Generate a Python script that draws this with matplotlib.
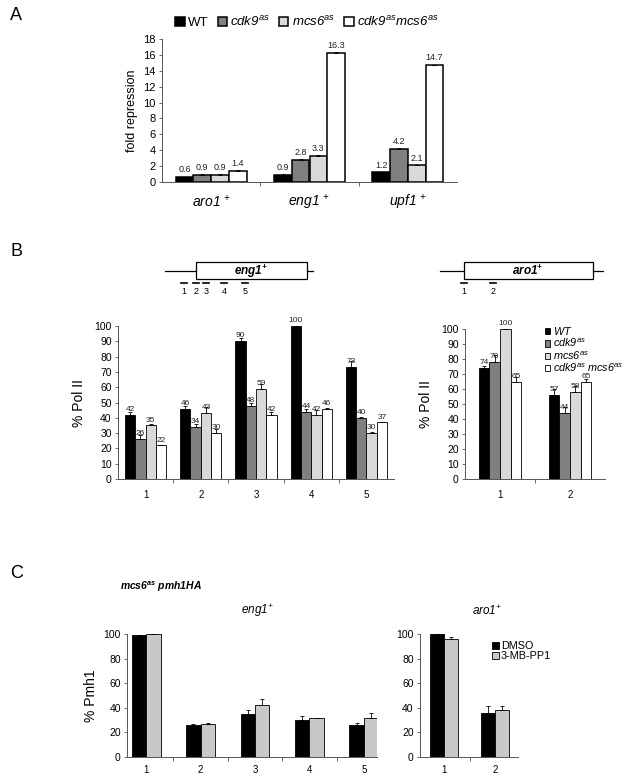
import matplotlib.pyplot as plt
import numpy as np

plt.rcParams['font.family'] = ['Liberation Sans', 'DejaVu Sans']
plt.rcParams['mathtext.fontset'] = 'custom'
# digits inside \mathit fall back to rm, so rm is italic too
plt.rcParams['mathtext.rm'] = 'Liberation Sans:italic'
plt.rcParams['mathtext.it'] = 'Liberation Sans:italic'
plt.rcParams['mathtext.sf'] = 'Liberation Sans:bold:italic'

W, H = 629, 782

# ---- panel A data
genes_a = [r'$\mathit{aro1}\ ^{+}$', r'$\mathit{eng1}\ ^{+}$', r'$\mathit{upf1}\ ^{+}$']
wt_a = [0.6, 0.9, 1.2]
cdk9_a = [0.9, 2.8, 4.2]
mcs6_a = [0.9, 3.3, 2.1]
dbl_a = [1.4, 16.3, 14.7]
wt_a_err = [0.05, 0.1, 0.1]
cdk9_a_err = [0.1, 0.05, 0.05]
mcs6_a_err = [0.15, 0.1, 0.1]
dbl_a_err = [0.15, 0.05, 0.05]

# ---- panel B data (eng1)
eng_pos = ['1', '2', '3', '4', '5']
wt_eng = [42, 46, 90, 100, 73]
cdk9_eng = [26, 34, 48, 44, 40]
mcs6_eng = [35, 43, 59, 42, 30]
dbl_eng = [22, 30, 42, 46, 37]
wt_eng_err = [2, 2, 2, 0, 4]
cdk9_eng_err = [3, 2, 2, 2, 0.5]
mcs6_eng_err = [1, 4, 3, 3, 1]
dbl_eng_err = [0.5, 3, 2, 0.3, 0.5]

# ---- panel B data (aro1)
aro_pos = ['1', '2']
wt_aro = [74, 56]
cdk9_aro = [78, 44]
mcs6_aro = [100, 58]
dbl_aro = [65, 65]
wt_aro_lab = ['74', '57']
cdk9_aro_lab = ['78', '44']
mcs6_aro_lab = ['100', '58']
dbl_aro_lab = ['65', '65']
wt_aro_err = [1.5, 4]
cdk9_aro_err = [5, 4]
mcs6_aro_err = [0, 4]
dbl_aro_err = [3, 2]

# ---- panel C data
dmso_eng = [99, 26, 35, 30, 26]
mb_eng = [100, 27, 42, 31.5, 31.5]
dmso_eng_err = [0, 1, 3, 3, 2]
mb_eng_err = [0, 1, 5, 0.5, 4.5]
dmso_aro = [100, 35.5]
mb_aro = [96, 38.5]
dmso_aro_err = [0, 6]
mb_aro_err = [1.5, 3]

# gene diagram primer positions (pixels)
eng_primers = [184, 196, 206, 224, 245]
aro_primers = [464, 493]

colors4 = ['black', '#808080', '#d9d9d9', 'white']
colors2 = ['black', '#c8c8c8']


def px_axes(fig, x0, x1, ytop, ybot):
    return fig.add_axes([x0 / W, 1 - ybot / H, (x1 - x0) / W, (ybot - ytop) / H])


def grouped(ax, series, errs, colors, width, labels=None, fs=6, off=1.0, lw=0.6, names=None):
    n = len(series)
    x = np.arange(1, len(series[0]) + 1)
    bars = []
    for i in range(n):
        pos = x + (i - (n - 1) / 2) * width
        vals = np.array(series[i], dtype=float)
        b = ax.bar(pos, vals, width, color=colors[i], edgecolor='black', linewidth=lw,
                   label=names[i] if names else None, zorder=2)
        bars.append(b)
        ax.errorbar(pos, vals, yerr=[np.zeros(len(vals)), errs[i]], fmt='none', ecolor='black',
                    elinewidth=0.6, capsize=1.5, capthick=0.6, zorder=3)
        if labels:
            for p, v, t in zip(pos, vals, labels[i]):
                ax.text(p, v + off, t, ha='center', va='bottom', fontsize=fs, color='#222222', zorder=4)
    return bars


def style(ax, ncat, xlim, ylim, yticks, xlabels, xfs=7.5, yfs=7.5):
    for s in ['top', 'right']:
        ax.spines[s].set_visible(False)
    for s in ['left', 'bottom']:
        ax.spines[s].set_color('#555555')
        ax.spines[s].set_linewidth(0.7)
    ax.set_xlim(*xlim)
    ax.set_ylim(*ylim)
    ax.set_yticks(yticks)
    ax.tick_params(axis='y', direction='out', length=2.5, width=0.6, labelsize=yfs, color='#555555', pad=2)
    ax.set_xticks(np.arange(1, ncat + 1))
    ax.set_xticklabels(xlabels)
    ax.set_xticks(np.arange(1.5, ncat), minor=True)
    ax.tick_params(axis='x', which='major', length=0, labelsize=xfs, pad=8)
    ax.tick_params(axis='x', which='minor', direction='out', length=3, width=0.6, color='#555555')


fig = plt.figure(figsize=(W / 100, H / 100), dpi=100)

# ================= A
axA = px_axes(fig, 162, 457, 39, 182)
fmt = lambda v: ['%.1f' % x for x in v]
barsA = grouped(axA, [wt_a, cdk9_a, mcs6_a, dbl_a], [wt_a_err, cdk9_a_err, mcs6_a_err, dbl_a_err],
                colors4, 0.18, labels=[fmt(wt_a), fmt(cdk9_a), fmt(mcs6_a), fmt(dbl_a)], fs=6.5, off=0.35,
                lw=1.1,
                names=['WT', r'$\mathit{cdk9}^{\mathit{as}}$', r'$\mathit{mcs6}^{\mathit{as}}$',
                       r'$\mathit{cdk9}^{\mathit{as}}\mathit{mcs6}^{\mathit{as}}$'])
style(axA, 3, (0.5, 3.5), (0, 18), range(0, 19, 2), genes_a, xfs=10, yfs=8)
axA.tick_params(axis='x', which='major', pad=8)
axA.set_ylabel('fold repression', fontsize=9, labelpad=4)
fig.legend(handles=barsA, loc='center', bbox_to_anchor=(307 / W, 1 - 22 / H), ncol=4, frameon=False,
           fontsize=9.5, handlelength=0.7, handleheight=0.7, handletextpad=0.25, columnspacing=0.7,
           borderaxespad=0)

# ================= B eng1
axB1 = px_axes(fig, 118, 394, 326, 479)
grouped(axB1, [wt_eng, cdk9_eng, mcs6_eng, dbl_eng],
        [wt_eng_err, cdk9_eng_err, mcs6_eng_err, dbl_eng_err], colors4, 0.187,
        labels=[[str(v) for v in s] for s in [wt_eng, cdk9_eng, mcs6_eng, dbl_eng]], fs=6, off=1.2, lw=0.6)
style(axB1, 5, (0.5, 5.5), (0, 100), range(0, 101, 10), eng_pos, xfs=7, yfs=7.5)
axB1.set_ylabel('% Pol II', fontsize=10, labelpad=6)

# ================= B aro1
axB2 = px_axes(fig, 465, 605, 329, 479)
barsB = grouped(axB2, [wt_aro, cdk9_aro, mcs6_aro, dbl_aro],
                [wt_aro_err, cdk9_aro_err, mcs6_aro_err, dbl_aro_err], colors4, 0.153,
                labels=[wt_aro_lab, cdk9_aro_lab, mcs6_aro_lab, dbl_aro_lab], fs=6, off=1.2, lw=0.6,
                names=[r'$\mathit{WT}$', r'$\mathit{cdk9}^{\mathit{as}}$', r'$\mathit{mcs6}^{\mathit{as}}$',
                       r'$\mathit{cdk9}^{\mathit{as}}\ \mathit{mcs6}^{\mathit{as}}$'])
style(axB2, 2, (0.5, 2.5), (0, 100), range(0, 101, 10), aro_pos, xfs=7, yfs=7.5)
axB2.set_ylabel('% Pol II', fontsize=10, labelpad=6)
fig.legend(handles=barsB, loc='upper left', bbox_to_anchor=(545 / W, 1 - 325 / H), frameon=False,
           fontsize=7.8, handlelength=0.5, handleheight=0.5, handletextpad=0.2, labelspacing=0.0,
           borderaxespad=0, borderpad=0)

# ================= C eng1
axC1 = px_axes(fig, 127, 377, 634, 757)
grouped(axC1, [dmso_eng, mb_eng], [dmso_eng_err, mb_eng_err], colors2, 0.266, lw=0.6)
style(axC1, 5, (0.65, 5.24), (0, 100), range(0, 101, 20), eng_pos, xfs=7, yfs=7.5)
axC1.tick_params(axis='x', which='major', pad=6)
axC1.set_ylabel('% Pmh1', fontsize=10, labelpad=4)

# ================= C aro1
axC2 = px_axes(fig, 420, 518, 634, 757)
barsC = grouped(axC2, [dmso_aro, mb_aro], [dmso_aro_err, mb_aro_err], colors2, 0.28, lw=0.6,
                names=['DMSO', '3-MB-PP1'])
style(axC2, 2, (0.53, 2.45), (0, 100), range(0, 101, 20), aro_pos, xfs=7, yfs=7.5)
axC2.tick_params(axis='x', which='major', pad=6)
fig.legend(handles=barsC, loc='upper left', bbox_to_anchor=(492 / W, 1 - 641 / H), frameon=False,
           fontsize=7.8, handlelength=0.6, handleheight=0.6, handletextpad=0.2, labelspacing=0.0,
           borderaxespad=0, borderpad=0)

# ================= overlay: letters, gene diagrams, titles
ov = fig.add_axes([0, 0, 1, 1])
ov.set_xlim(0, W)
ov.set_ylim(H, 0)
ov.axis('off')
ov.patch.set_alpha(0)

ov.text(10, 16, 'A', fontsize=13, va='center')
ov.text(10, 252, 'B', fontsize=13, va='center')
ov.text(10, 574, 'C', fontsize=13, va='center')

# eng1 gene
ov.plot([165, 196], [271, 271], color='black', lw=0.9)
ov.plot([307, 313], [271, 271], color='black', lw=0.9)
ov.add_patch(plt.Rectangle((196, 262), 111, 17, facecolor='white', edgecolor='black', lw=0.9))
ov.text(251, 271, r'$\mathsf{eng1}^{\mathsf{+}}$', fontsize=8.5, ha='center', va='center')
for i, p in enumerate(eng_primers):
    ov.plot([p - 3, p + 3], [283, 283], color='black', lw=1.2)
    ov.text(p, 292, str(i + 1), fontsize=6.5, ha='center', va='center')

# aro1 gene
ov.plot([440, 464], [271, 271], color='black', lw=0.9)
ov.plot([593, 603], [271, 271], color='black', lw=0.9)
ov.add_patch(plt.Rectangle((464, 262), 129, 17, facecolor='white', edgecolor='black', lw=0.9))
ov.text(528, 271, r'$\mathsf{aro1}^{\mathsf{+}}$', fontsize=8.5, ha='center', va='center')
for i, p in enumerate(aro_primers):
    ov.plot([p - 3, p + 3], [283, 283], color='black', lw=1.2)
    ov.text(p, 292, str(i + 1), fontsize=6.5, ha='center', va='center')

ov.text(120, 587, r'$\mathsf{mcs6}^{\mathsf{as}}\ \mathsf{pmh1HA}$', fontsize=7.5, ha='left', va='center')
ov.text(257, 611, r'$\mathit{eng1}^{+}$', fontsize=8.5, ha='center', va='center')
ov.text(487, 611, r'$\mathit{aro1}^{+}$', fontsize=8.5, ha='center', va='center')

fig.savefig('out.png', dpi=100)
